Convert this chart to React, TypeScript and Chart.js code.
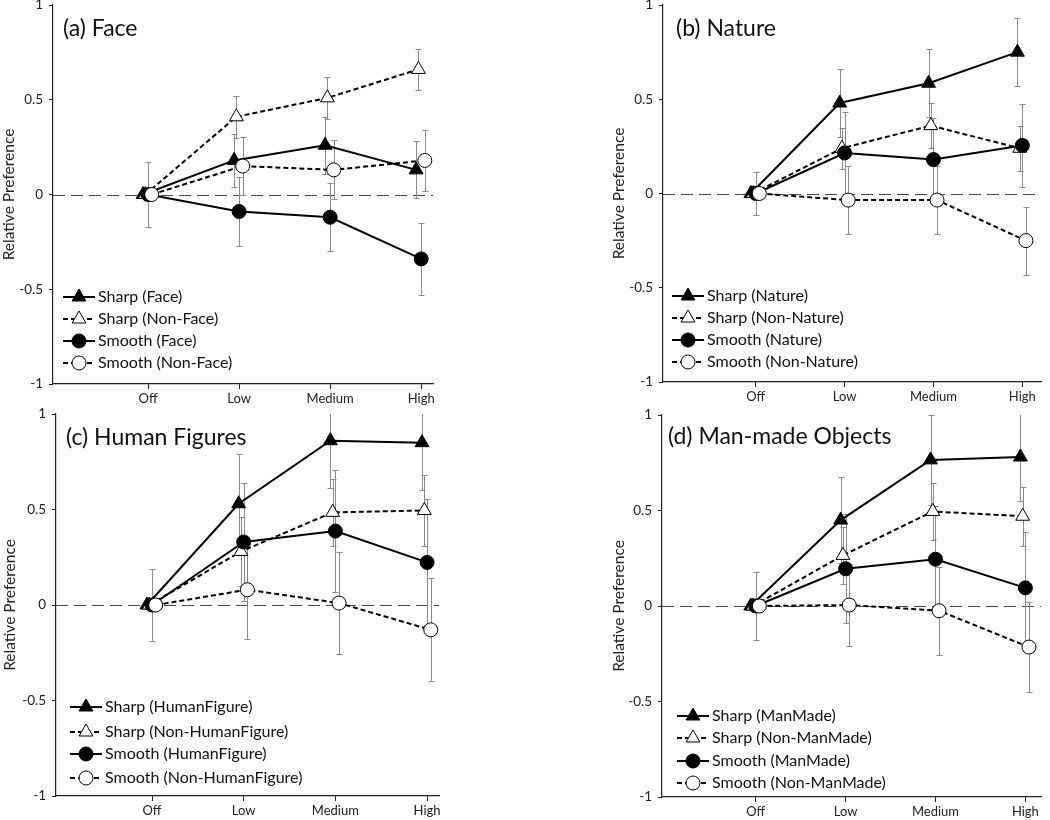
import React, { useEffect, useRef } from "react";
import { Chart, registerables } from "chart.js";

Chart.register(...registerables);

const FONT = "Lato, 'Open Sans', sans-serif";

// ---- shared axis content ----
const levels = ["Off", "Low", "Medium", "High"];
const yTickValues = [-1, -0.5, 0, 0.5, 1];
const yAxisTitle = "Relative Preference";

// ---- (a) Face ----
const faceNames = ["Sharp (Face)", "Sharp (Non-Face)", "Smooth (Face)", "Smooth (Non-Face)"];
const faceSharp = [0, 0.18, 0.26, 0.13];
const faceSharpErr = [0, 0.14, 0.15, 0.15];
const faceSharpNon = [0, 0.41, 0.51, 0.66];
const faceSharpNonErr = [0, 0.11, 0.11, 0.11];
const faceSmooth = [0, -0.09, -0.12, -0.34];
const faceSmoothErr = [0.17, 0.18, 0.18, 0.19];
const faceSmoothNon = [0, 0.15, 0.13, 0.18];
const faceSmoothNonErr = [0, 0.155, 0.155, 0.16];

// ---- (b) Nature ----
const natureNames = ["Sharp (Nature)", "Sharp (Non-Nature)", "Smooth (Nature)", "Smooth (Non-Nature)"];
const natureSharp = [0, 0.48, 0.585, 0.75];
const natureSharpErr = [0, 0.18, 0.18, 0.18];
const natureSharpNon = [0, 0.24, 0.36, 0.24];
const natureSharpNonErr = [0, 0.11, 0.12, 0.12];
const natureSmooth = [0, 0.215, 0.18, 0.255];
const natureSmoothErr = [0.115, 0.22, 0.22, 0.22];
const natureSmoothNon = [0, -0.035, -0.035, -0.25];
const natureSmoothNonErr = [0, 0.18, 0.18, 0.18];

// ---- (c) Human Figures ----
const humanNames = ["Sharp (HumanFigure)", "Sharp (Non-HumanFigure)", "Smooth (HumanFigure)", "Smooth (Non-HumanFigure)"];
const humanSharp = [0, 0.53, 0.86, 0.85];
const humanSharpErr = [0, 0.26, 0.25, 0.25];
const humanSharpNon = [0, 0.28, 0.485, 0.495];
const humanSharpNonErr = [0, 0.18, 0.175, 0.185];
const humanSmooth = [0, 0.33, 0.387, 0.223];
const humanSmoothErr = [0.19, 0.31, 0.32, 0.33];
const humanSmoothNon = [0, 0.08, 0.01, -0.13];
const humanSmoothNonErr = [0, 0.26, 0.265, 0.27];

// ---- (d) Man-made Objects ----
const manNames = ["Sharp (ManMade)", "Sharp (Non-ManMade)", "Smooth (ManMade)", "Smooth (Non-ManMade)"];
const manSharp = [0, 0.45, 0.765, 0.78];
const manSharpErr = [0, 0.227, 0.235, 0.23];
const manSharpNon = [0, 0.265, 0.495, 0.47];
const manSharpNonErr = [0, 0.15, 0.15, 0.155];
const manSmooth = [0, 0.195, 0.245, 0.095];
const manSmoothErr = [0.176, 0.285, 0.28, 0.29];
const manSmoothNon = [0, 0.005, -0.025, -0.215];
const manSmoothNonErr = [0, 0.217, 0.23, 0.235];

// ---- series styles (same order in every panel) ----
const seriesStyles = [
  { marker: "triangle", filled: true, dashed: false, radius: 8, shift: -0.055 },
  { marker: "triangle", filled: false, dashed: true, radius: 8, shift: -0.03 },
  { marker: "circle", filled: true, dashed: false, radius: 7, shift: 0 },
  { marker: "circle", filled: false, dashed: true, radius: 7, shift: 0.04 },
];

type Panel = {
  key: string;
  title: string;
  names: string[];
  values: number[][];
  errors: number[][];
  area: { left: number; top: number; right: number; bottom: number };
  canvasRight: number;
  axisW: number;
  yTitlePad: number;
  xMin: number;
  xMax: number;
  titleDx: number;
  titleDy: number;
  legendDx: number;
  legendRows: number[];
};

const panels: Panel[] = [
  {
    key: "a",
    title: "(a) Face",
    names: faceNames,
    values: [faceSharp, faceSharpNon, faceSmooth, faceSmoothNon],
    errors: [faceSharpErr, faceSharpNonErr, faceSmoothErr, faceSmoothNonErr],
    area: { left: 53, top: 5, right: 433, bottom: 384 },
    canvasRight: 525,
    axisW: 53,
    yTitlePad: 0,
    xMin: -1.044,
    xMax: 3.13,
    titleDx: 10,
    titleDy: 24,
    legendDx: 10,
    legendRows: [87, 65, 43, 21],
  },
  {
    key: "b",
    title: "(b) Nature",
    names: natureNames,
    values: [natureSharp, natureSharpNon, natureSmooth, natureSmoothNon],
    errors: [natureSharpErr, natureSharpNonErr, natureSmoothErr, natureSmoothNonErr],
    area: { left: 663, top: 5, right: 1050, bottom: 382 },
    canvasRight: 1050,
    axisW: 53,
    yTitlePad: 0,
    xMin: -1.044,
    xMax: 3.21,
    titleDx: 13,
    titleDy: 24,
    legendDx: 9,
    legendRows: [86, 64, 42, 20],
  },
  {
    key: "c",
    title: "(c) Human Figures",
    names: humanNames,
    values: [humanSharp, humanSharpNon, humanSmooth, humanSmoothNon],
    errors: [humanSharpErr, humanSharpNonErr, humanSmoothErr, humanSmoothNonErr],
    area: { left: 56, top: 414, right: 439, bottom: 796 },
    canvasRight: 525,
    axisW: 56,
    yTitlePad: 1,
    xMin: -1.047,
    xMax: 3.13,
    titleDx: 10,
    titleDy: 24,
    legendDx: 14,
    legendRows: [89, 64, 42, 18],
  },
  {
    key: "d",
    title: "(d) Man-made Objects",
    names: manNames,
    values: [manSharp, manSharpNon, manSmooth, manSmoothNon],
    errors: [manSharpErr, manSharpNonErr, manSmoothErr, manSmoothNonErr],
    area: { left: 662, top: 415, right: 1050, bottom: 797 },
    canvasRight: 1050,
    axisW: 52,
    yTitlePad: 0,
    xMin: -1.043,
    xMax: 3.174,
    titleDx: 6,
    titleDy: 22,
    legendDx: 15,
    legendRows: [81, 59, 36, 14],
  },
];

const TOP_PAD = 20;
const X_AXIS_H = 24;

function drawMarker(ctx: CanvasRenderingContext2D, style: any, x: number, y: number) {
  const r = style.radius;
  ctx.beginPath();
  if (style.marker === "triangle") {
    ctx.moveTo(x, y - r);
    ctx.lineTo(x + 0.866 * r, y + 0.5 * r);
    ctx.lineTo(x - 0.866 * r, y + 0.5 * r);
    ctx.closePath();
  } else {
    ctx.arc(x, y, r, 0, Math.PI * 2);
  }
  ctx.fillStyle = style.filled ? "#000" : "#fff";
  ctx.fill();
  ctx.lineWidth = 1;
  ctx.strokeStyle = "#000";
  ctx.setLineDash([]);
  ctx.stroke();
}

function makeDecor(p: Panel) {
  return {
    id: "decor_" + p.key,
    beforeDatasetsDraw(chart: any) {
      const { ctx, chartArea: a } = chart;
      const x = chart.scales.x;
      const y = chart.scales.y;
      ctx.save();
      ctx.beginPath();
      ctx.rect(a.left, a.top, a.right - a.left, a.bottom - a.top);
      ctx.clip();
      // zero reference line
      const y0 = Math.round(y.getPixelForValue(0)) + 0.5;
      ctx.strokeStyle = "#4a4a4a";
      ctx.lineWidth = 1.2;
      ctx.setLineDash([12, 6]);
      ctx.beginPath();
      ctx.moveTo(a.left, y0);
      ctx.lineTo(a.right, y0);
      ctx.stroke();
      ctx.setLineDash([]);
      // error bars
      ctx.strokeStyle = "#8a8a8a";
      ctx.lineWidth = 1;
      chart.data.datasets.forEach((ds: any, i: number) => {
        const errs = p.errors[i];
        ds.data.forEach((pt: any, j: number) => {
          const e = errs[j];
          if (!e) return;
          const px = Math.round(x.getPixelForValue(pt.x)) + 0.5;
          const t = Math.round(y.getPixelForValue(pt.y + e)) + 0.5;
          const b = Math.round(y.getPixelForValue(pt.y - e)) + 0.5;
          ctx.beginPath();
          ctx.moveTo(px, t);
          ctx.lineTo(px, b);
          ctx.moveTo(px - 3, t);
          ctx.lineTo(px + 3, t);
          ctx.moveTo(px - 3, b);
          ctx.lineTo(px + 3, b);
          ctx.stroke();
        });
      });
      ctx.restore();
    },
    afterDraw(chart: any) {
      const { ctx, chartArea: a } = chart;
      ctx.save();
      // panel title
      ctx.fillStyle = "#111";
      ctx.font = `23px ${FONT}`;
      ctx.textBaseline = "middle";
      ctx.textAlign = "left";
      ctx.fillText(p.title, a.left + p.titleDx, a.top + p.titleDy);
      // legend
      const x0 = a.left + p.legendDx;
      p.names.forEach((name, i) => {
        const st = seriesStyles[i];
        const yy = a.bottom - p.legendRows[i];
        ctx.strokeStyle = "#000";
        ctx.lineWidth = 2;
        ctx.setLineDash(st.dashed ? [5, 3] : []);
        ctx.beginPath();
        ctx.moveTo(x0, yy);
        ctx.lineTo(x0 + 32, yy);
        ctx.stroke();
        drawMarker(ctx, st, x0 + 16, yy);
        ctx.fillStyle = "#111";
        ctx.font = `16px ${FONT}`;
        ctx.textBaseline = "middle";
        ctx.fillText(name, x0 + 35, yy);
      });
      ctx.restore();
    },
  };
}

function ChartPanel({ p }: { p: Panel }) {
  const ref = useRef<HTMLCanvasElement>(null);
  const left = p.area.left - p.axisW;
  const top = p.area.top - TOP_PAD;
  const width = p.canvasRight - left;
  const height = p.area.bottom + X_AXIS_H - top;

  useEffect(() => {
    if (!ref.current) return;
    const datasets = p.values.map((vals, i) => {
      const st = seriesStyles[i];
      return {
        label: p.names[i],
        data: vals.map((v, j) => ({ x: j + st.shift, y: v })),
        borderColor: "#000",
        borderWidth: 2,
        borderDash: st.dashed ? [5, 3] : [],
        pointStyle: st.marker,
        pointRadius: st.radius,
        pointBackgroundColor: st.filled ? "#000" : "#fff",
        pointBorderColor: "#000",
        pointBorderWidth: 1,
        tension: 0,
        fill: false,
        order: 4 - i,
      };
    });
    const chart = new Chart(ref.current, {
      type: "line",
      data: { datasets },
      options: {
        animation: false,
        responsive: false,
        devicePixelRatio: 1,
        events: [],
        layout: {
          padding: { left: 0, top: TOP_PAD, right: p.canvasRight - p.area.right, bottom: 0 },
        },
        plugins: {
          legend: { display: false },
          tooltip: { enabled: false },
          title: { display: false },
        },
        scales: {
          x: {
            type: "linear",
            min: p.xMin,
            max: p.xMax,
            afterBuildTicks: (s: any) => {
              s.ticks = levels.map((_, i) => ({ value: i }));
            },
            afterFit: (s: any) => {
              s.height = X_AXIS_H;
            },
            ticks: {
              autoSkip: false,
              maxRotation: 0,
              padding: 2,
              color: "#222",
              font: { family: FONT, size: 13 },
              callback: (v: any) => levels[Math.round(v)] ?? "",
            },
            grid: { drawOnChartArea: false, drawTicks: true, tickLength: 5, color: "#222", lineWidth: 1 },
            border: { display: true, color: "#222", width: 1.2 },
          },
          y: {
            type: "linear",
            min: -1,
            max: 1,
            afterBuildTicks: (s: any) => {
              s.ticks = yTickValues.map((v) => ({ value: v }));
            },
            afterFit: (s: any) => {
              s.width = p.axisW;
            },
            ticks: {
              padding: 6,
              color: "#222",
              font: { family: FONT, size: 13.5 },
              callback: (v: any) => String(v),
            },
            grid: { drawOnChartArea: false, drawTicks: true, tickLength: 4, color: "#222", lineWidth: 1 },
            border: { display: true, color: "#222", width: 1.2 },
            title: {
              display: true,
              text: yAxisTitle,
              color: "#222",
              font: { family: FONT, size: 15.5 },
              padding: { top: p.yTitlePad, bottom: 0 },
            },
          },
        },
      },
      plugins: [makeDecor(p)],
    } as any);
    return () => chart.destroy();
  }, [p]);

  return (
    <canvas
      ref={ref}
      width={width}
      height={height}
      style={{ position: "absolute", left, top, width, height, display: "block" }}
    />
  );
}

export default function App() {
  return (
    <div
      style={{
        position: "absolute",
        left: 0,
        top: 0,
        width: 1050,
        height: 820,
        overflow: "hidden",
        background: "#fff",
      }}
    >
      {panels.map((p) => (
        <ChartPanel key={p.key} p={p} />
      ))}
    </div>
  );
}
